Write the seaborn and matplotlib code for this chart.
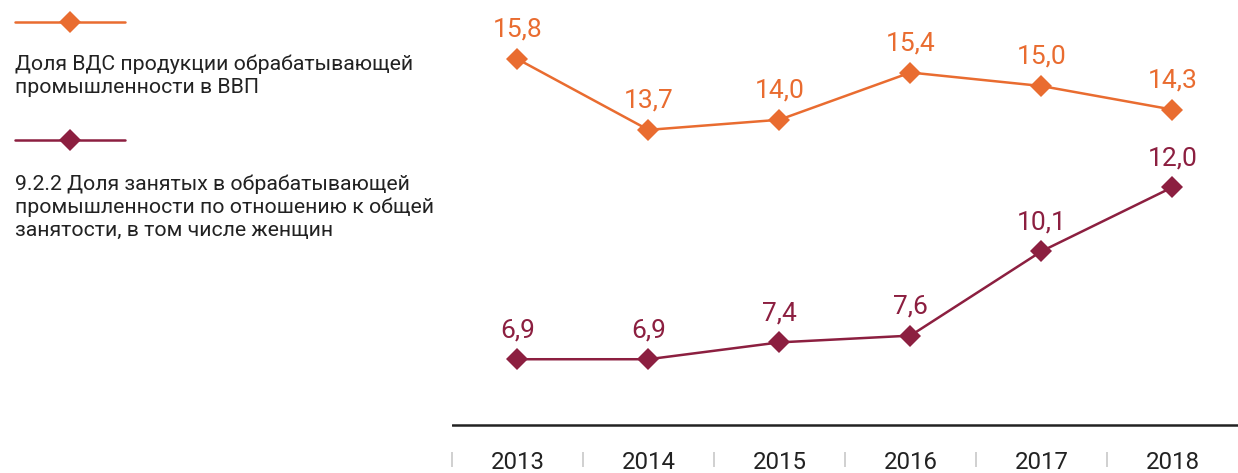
import pandas as pd
import matplotlib.pyplot as plt
from matplotlib.lines import Line2D
from matplotlib.ticker import FixedLocator
import seaborn as sns

# data
years = [2013, 2014, 2015, 2016, 2017, 2018]
gva_share = [15.8, 13.7, 14.0, 15.4, 15.0, 14.3]
empl_share = [6.9, 6.9, 7.4, 7.6, 10.1, 12.0]
labels = [
    "Доля ВДС продукции обрабатывающей\nпромышленности в ВВП",
    "9.2.2 Доля занятых в обрабатывающей\nпромышленности по отношению к общей\nзанятости, в том числе женщин",
]
colors = ["#E96C30", "#8C1F40"]

df = pd.concat([
    pd.DataFrame({"year": years, "value": gva_share, "series": labels[0]}),
    pd.DataFrame({"year": years, "value": empl_share, "series": labels[1]}),
])

sns.set_style("white")
plt.rcParams["font.family"] = ["Roboto", "DejaVu Sans"]

fig = plt.figure(figsize=(12.38, 4.73), dpi=100)
ax = fig.add_axes([0.365, 0.0444, 0.635, 0.9556])

sns.lineplot(data=df, x="year", y="value", hue="series", palette=colors,
             marker="D", markersize=11, markeredgewidth=0, linewidth=1.8,
             legend=False, ax=ax)

# value labels
for vals, c in zip([gva_share, empl_share], colors):
    for x, v in zip(years, vals):
        ax.annotate(f"{v:.1f}".replace(".", ","), (x, v), xytext=(0, 21),
                    textcoords="offset points", ha="center", va="center",
                    fontsize=19, color=c)

ax.set_xlim(2012.5, 2018.5)
ax.set_ylim(4.15, 17.55)
ax.axhline(4.95, color="#222222", linewidth=1.8)
sns.despine(ax=ax, left=True, bottom=True)
ax.set_yticks([])
ax.set_xlabel("")
ax.set_ylabel("")
ax.set_xticks(years)
ax.set_xticklabels([str(y) for y in years])
ax.xaxis.set_minor_locator(FixedLocator([2012.5, 2013.5, 2014.5, 2015.5, 2016.5, 2017.5]))
ax.tick_params(axis="x", which="major", length=0, pad=-0.5, labelsize=17.3, labelcolor="#222222")
ax.tick_params(axis="x", which="minor", length=10.5, width=1.2, color="#c8c8c8", direction="out", bottom=True)

# legend drawn on the left
leg_y = [0.953, 0.704]
text_y = [0.885, 0.632]
for ly, ty, c, lab in zip(leg_y, text_y, colors, labels):
    fig.add_artist(Line2D([0.012, 0.101], [ly, ly], transform=fig.transFigure,
                          color=c, linewidth=1.8))
    fig.add_artist(Line2D([0.0565], [ly], transform=fig.transFigure, color=c,
                          marker="D", markersize=11, markeredgewidth=0))
    fig.text(0.012, ty, lab, ha="left", va="top", fontsize=15.3, color="#222222",
             linespacing=1.27)

fig.savefig("out.png", dpi=100)
plt.close()
